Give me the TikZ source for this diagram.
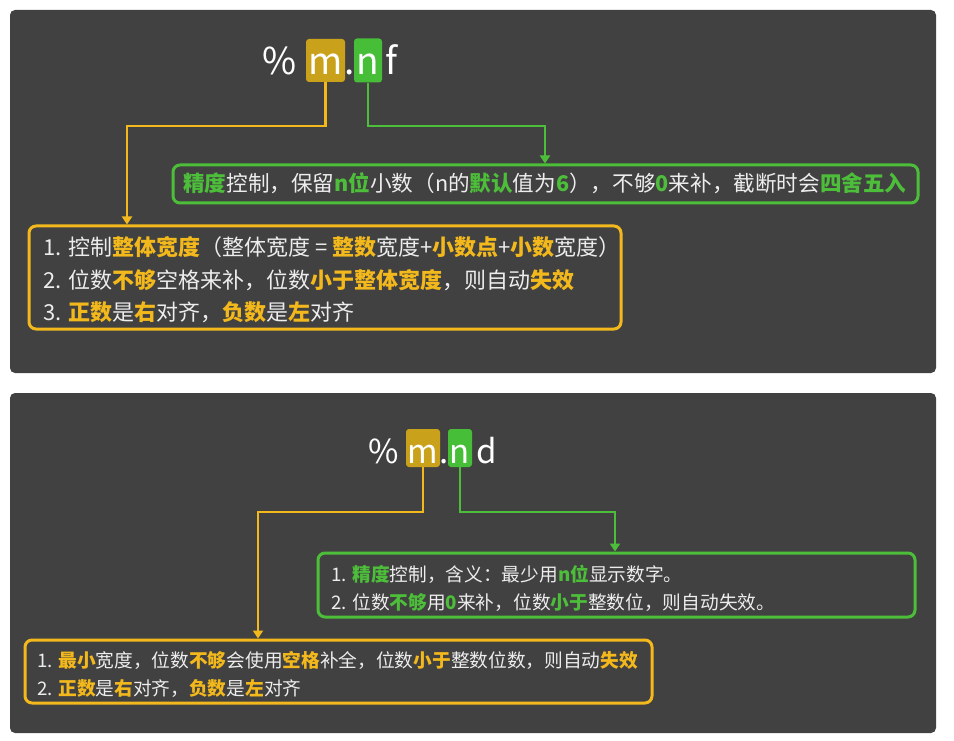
\documentclass[tikz,border=0pt]{standalone}
\usepackage{fontspec}
\setmainfont{Noto Sans CJK SC}
\usetikzlibrary{arrows.meta}
\definecolor{panel}{HTML}{414141}
\definecolor{ylw}{HTML}{F2B81C}
\definecolor{ylwfill}{HTML}{C9A11B}
\definecolor{grn}{HTML}{4DBE3A}
\definecolor{grnfill}{HTML}{47BE37}
\definecolor{txt}{HTML}{EDEDED}
\newcommand{\hly}[1]{{\bfseries\color{ylw}#1}}
\newcommand{\hlg}[1]{{\bfseries\color{grn}#1}}
\begin{document}
\begin{tikzpicture}[x=1pt,y=-1pt,
  panelbox/.style={fill=panel, rounded corners=5pt},
  ybox/.style={draw=ylw, line width=3pt, rounded corners=7pt, inner sep=0pt},
  gbox/.style={draw=grn, line width=3pt, rounded corners=7pt, inner sep=0pt},
  tagm/.style={fill=ylwfill, rounded corners=3pt, inner sep=0pt},
  tagn/.style={fill=grnfill, rounded corners=3pt, inner sep=0pt},
  fmtbig/.style={anchor=base, inner sep=0pt, text=white, font=\fontsize{37}{37}\selectfont},
  fmtsmall/.style={anchor=base, inner sep=0pt, text=white, font=\fontsize{33}{33}\selectfont},
  linebig/.style={anchor=base west, inner sep=0pt, text=txt, font=\fontsize{22}{22}\selectfont},
  linegreen/.style={anchor=base west, inner sep=0pt, text=txt, font=\fontsize{21.6}{21.6}\selectfont},
  linesmall/.style={anchor=base west, inner sep=0pt, text=txt, font=\fontsize{18.7}{18.7}\selectfont},
  yconn/.style={draw=ylw, line width=2.8pt, -{Triangle[width=10pt,length=8pt]}},
  gconn/.style={draw=grn, line width=2.8pt, -{Triangle[width=10pt,length=8pt]}}
]
\useasboundingbox[fill=white] (0,0) rectangle (954,741);
\fill[panelbox] (10,10) rectangle (936,373);
\fill[panelbox] (10,393) rectangle (936,733);

% ---------- top panel ----------
\node[tagm, minimum width=39pt, minimum height=43pt] (mbox) at (325.5,60.5) {};
\node[tagn, minimum width=28pt, minimum height=44pt] (nbox) at (368,60.5) {};
\node[fmtbig, anchor=base east] (pct) at (297,75) {\%};
\node[fmtbig] (mtxt) at (325.5,75) {m};
\node[fmtbig] (dot) at (349.5,75) {.};
\node[fmtbig] (ntxt) at (368,75) {n};
\node[fmtbig, anchor=base west] (ftxt) at (385,75) {f};

\node[gbox, minimum width=745pt, minimum height=38pt] (gbox1) at (545.5,184) {};
\node[linegreen] (g1) at (183,192) {\hlg{精度}控制，保留\hlg{n位}小数（n的\hlg{默认}值为\hlg{6}），不够\hlg{0}来补，截断时会\hlg{四舍五入}};

\node[ybox, minimum width=592pt, minimum height=103pt] (ybox1) at (325,277.5) {};
\node[linebig] (y1a) at (43,255) {1. 控制\hly{整体宽度}（整体宽度 = \hly{整数}宽度+\hly{小数点}+\hly{小数}宽度）};
\node[linebig] (y1b) at (43,288) {2. 位数\hly{不够}空格来补，位数\hly{小于整体宽度}，则自动\hly{失效}};
\node[linebig] (y1c) at (43,320) {3. \hly{正数}是\hly{右}对齐，\hly{负数}是\hly{左}对齐};

\coordinate (c1) at (127,126);
\coordinate (c2) at (545,126);
\draw[yconn] (mbox.south) |- (c1) -- (c1 |- ybox1.north);
\draw[gconn] (nbox.south) |- (c2) -- (c2 |- gbox1.north);

% ---------- bottom panel ----------
\node[tagm, minimum width=34pt, minimum height=38pt] (mbox2) at (423,448) {};
\node[tagn, minimum width=24pt, minimum height=38pt] (nbox2) at (460,448) {};
\node[fmtsmall, anchor=base east] (pct2) at (399,463) {\%};
\node[fmtsmall] (mtxt2) at (423,463) {m};
\node[fmtsmall] (dot2) at (444,463) {.};
\node[fmtsmall] (ntxt2) at (460,463) {n};
\node[fmtsmall, anchor=base west] (dtxt2) at (476,463) {d};

\node[gbox, minimum width=597pt, minimum height=64pt] (gbox2) at (616.5,585) {};
\node[linesmall] (g2a) at (331,581) {1. \hlg{精度}控制，含义：最少用\hlg{n位}显示数字。};
\node[linesmall] (g2b) at (331,609) {2. 位数\hlg{不够}用\hlg{0}来补，位数\hlg{小于}整数位，则自动失效。};

\node[ybox, minimum width=627pt, minimum height=63pt] (ybox2) at (338.5,671.5) {};
\node[linesmall] (y2a) at (37,667) {1. \hly{最小}宽度，位数\hly{不够}会使用\hly{空格}补全，位数\hly{小于}整数位数，则自动\hly{失效}};
\node[linesmall] (y2b) at (37,695) {2. \hly{正数}是\hly{右}对齐，\hly{负数}是\hly{左}对齐};

\coordinate (c3) at (258,512);
\coordinate (c4) at (615,512);
\draw[yconn] (mbox2.south) |- (c3) -- (c3 |- ybox2.north);
\draw[gconn] (nbox2.south) |- (c4) -- (c4 |- gbox2.north);
\end{tikzpicture}
\end{document}
